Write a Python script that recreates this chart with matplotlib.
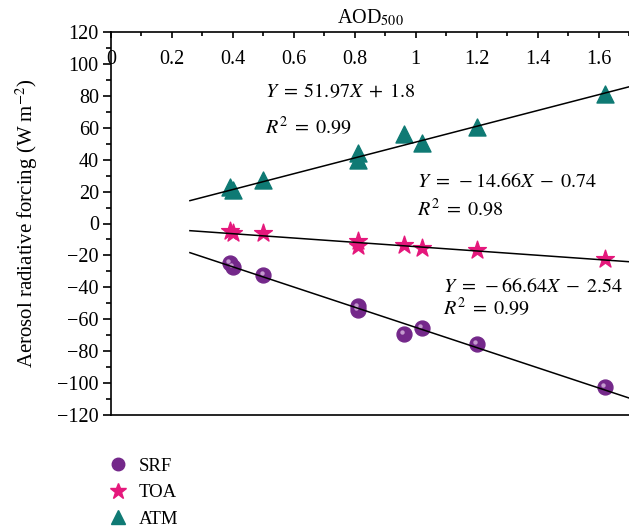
import numpy as np
import matplotlib
matplotlib.use("Agg")
import matplotlib.pyplot as plt
from matplotlib.ticker import MultipleLocator
from matplotlib.lines import Line2D

plt.rcParams["font.family"] = ["Liberation Serif", "DejaVu Serif"]
plt.rcParams["mathtext.fontset"] = "stix"
plt.rcParams["font.size"] = 14.5

# AOD500 values (shared by the three series)
aod = [0.39, 0.40, 0.50, 0.81, 0.81, 0.96, 1.02, 1.20, 1.62]
srf = [-25, -27, -32.5, -52, -54, -69, -65.5, -75.5, -102.5]
toa = [-5, -6, -6, -11, -14, -13.5, -15.5, -16.5, -22.5]
atm = [23, 21, 27, 44, 39.5, 56, 50.5, 60.5, 81]

# fitted lines as drawn in the figure (slope, intercept) -- SRF, TOA, ATM
line_slopes = [-63.2, -13.5, 49.5]
line_intercepts = [-1.9, -1.0, 1.5]
line_range = [0.259, 1.70]

# printed equations
fit_labels = [r"$Y\;=\;-66.64X\;-\;2.54$", r"$Y\;=\;-14.66X\;-\;0.74$",
              r"$Y\;=\;51.97X\;+\;1.8$"]
r2_labels = [r"$R^2\;=\;0.99$", r"$R^2\;=\;0.98$", r"$R^2\;=\;0.99$"]

series_names = ["SRF", "TOA", "ATM"]
colors = ["#74288a", "#e5187c", "#0f7a74"]

fig = plt.figure(figsize=(6.29, 5.29), dpi=100)
ax = fig.add_axes([111 / 629, 1 - 415 / 529, 1 - 111 / 629, (415 - 32) / 529])

xs = np.array(line_range)
for m, b in zip(line_slopes, line_intercepts):
    ax.plot(xs, m * xs + b, color="black", lw=1.1, zorder=4)

ax.scatter(aod, srf, s=115, marker="o", color=colors[0], zorder=3)
ax.scatter(np.array(aod) - 0.006, np.array(srf) + 1.2, s=10, marker="o",
           color="#d9b8e0", alpha=0.8, zorder=3, linewidths=0)
ax.scatter(aod, toa, s=180, marker="*", color=colors[1], zorder=3)
ax.scatter(aod, atm, s=150, marker="^", color=colors[2], zorder=3)

# equation annotations
ax.text(0.505, 82.4, fit_labels[2], va="center", ha="left")
ax.text(0.505, 60, r2_labels[2], va="center", ha="left")
ax.text(1.003, 25.4, fit_labels[1], va="center", ha="left")
ax.text(1.003, 8.5, r2_labels[1], va="center", ha="left")
ax.text(1.09, -40.4, fit_labels[0], va="center", ha="left")
ax.text(1.09, -53, r2_labels[0], va="center", ha="left")

ax.set_xlim(0, 1.7)
ax.set_ylim(-120, 120)
ax.spines["right"].set_visible(False)
for s in ["top", "left", "bottom"]:
    ax.spines[s].set_linewidth(1.2)

ax.xaxis.set_major_locator(MultipleLocator(0.2))
ax.xaxis.set_minor_locator(MultipleLocator(0.1))
ax.yaxis.set_major_locator(MultipleLocator(20))
ax.yaxis.set_minor_locator(MultipleLocator(10))
ax.xaxis.set_major_formatter(plt.FuncFormatter(lambda v, p: f"{v:g}"))

ax.tick_params(axis="x", which="both", top=True, bottom=False, labeltop=True,
               labelbottom=False, direction="in", width=1.2)
ax.tick_params(axis="x", which="major", length=4.5, pad=-27)
ax.tick_params(axis="x", which="minor", length=3)
ax.tick_params(axis="y", which="both", direction="out", width=1.2)
ax.tick_params(axis="y", which="major", length=5.8, pad=3)
ax.tick_params(axis="y", which="minor", length=3.5)

ax.xaxis.set_label_position("top")
ax.set_xlabel(r"AOD$_{500}$", labelpad=3)
ax.set_ylabel(r"Aerosol radiative forcing (W m$^{-2}$)", labelpad=12, fontsize=15)

handles = [
    Line2D([], [], ls="none", marker="o", markersize=9, color=colors[0]),
    Line2D([], [], ls="none", marker="*", markersize=12, color=colors[1]),
    Line2D([], [], ls="none", marker="^", markersize=10, color=colors[2]),
]
fig.legend(handles, series_names, loc="upper left", fontsize=13.5,
           bbox_to_anchor=(92 / 629, 1 - 450 / 529), frameon=False,
           handletextpad=0.1, labelspacing=0.5, borderaxespad=0)

fig.savefig("out.png", dpi=100)
